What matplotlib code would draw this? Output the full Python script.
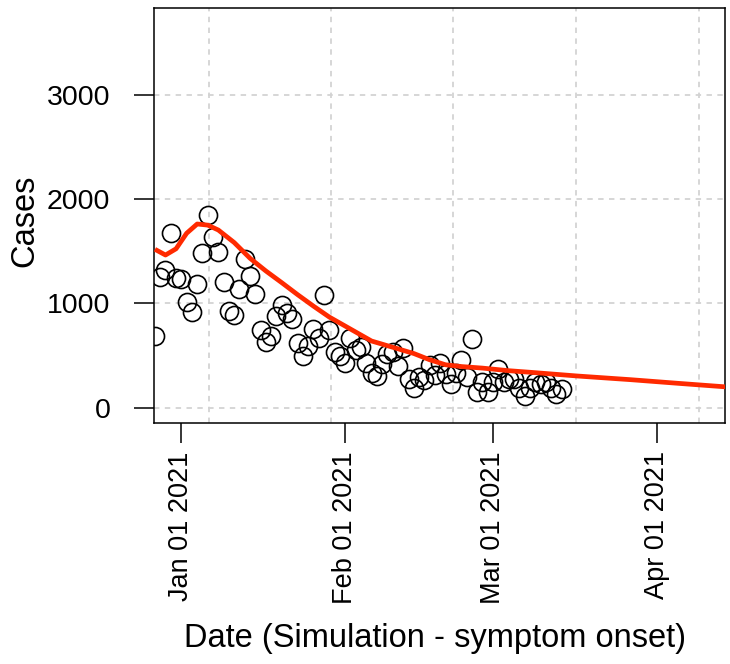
import numpy as np
import matplotlib
matplotlib.use("Agg")
import matplotlib.pyplot as plt
import matplotlib.dates as mdates

plt.rcParams['font.family'] = ['Liberation Sans', 'DejaVu Sans']

# observed daily cases (symptom onset), first day 2020-12-27
start_date = np.datetime64('2020-12-27')
cases = [687, 1250, 1320, 1680, 1245, 1238, 1015, 922, 1188, 1486,
         1845, 1637, 1495, 1205, 932, 887, 1143, 1425, 1265, 1095,
         744, 628, 688, 877, 986, 906, 849, 623, 493, 594,
         756, 667, 1080, 744, 534, 493, 429, 667, 550, 582,
         429, 332, 305, 420, 513, 534, 404, 574, 279, 190,
         291, 267, 412, 311, 433, 319, 230, 332, 453, 291,
         655, 150, 251, 154, 251, 372, 251, 279, 279, 190,
         112, 190, 251, 230, 251, 190, 135, 178]

# fitted curve, read at these offsets (days from 2021-01-01)
fit_day = [-5, -3, -1, 1, 3, 5, 7, 10, 13, 16, 19, 22, 25, 28, 32, 36,
           41, 44, 47, 50, 53, 57, 62, 66, 75, 85, 94, 103]
fit_cases = [1520, 1465, 1525, 1674, 1763, 1752, 1705, 1585, 1434, 1312,
             1200, 1085, 975, 870, 755, 640, 565, 520, 460, 412, 395,
             380, 355, 340, 304, 269, 234, 200]

tick_dates = ['2021-01-01', '2021-02-01', '2021-03-01', '2021-04-01']
tick_labels = ['Jan 01 2021', 'Feb 01 2021', 'Mar 01 2021', 'Apr 01 2021']
y_ticks = [0, 1000, 2000, 3000]

jan1 = np.datetime64('2021-01-01T00:00')
obs_dates = start_date + np.arange(len(cases)).astype('timedelta64[D]')
fit_dates = jan1 + (np.array(fit_day) * 24 * 60).astype('timedelta64[m]')


def day_pos(d):
    # position of a fractional day offset from Jan 1
    return mdates.date2num(jan1) + d


fig = plt.figure(figsize=(7.3, 6.64), dpi=100)
ax = fig.add_axes([0.211, 0.3634, 0.7825, 0.6246])

# grid (R grid(): lightgray dotted)
for g in [5.24, 28.4, 51.5, 74.7, 97.9]:
    ax.axvline(day_pos(g), color='#d3d3d3', lw=1.3, ls=(0, (3, 3)), zorder=0)
for y in y_ticks:
    ax.axhline(y, color='#d3d3d3', lw=1.3, ls=(0, (3, 3)), zorder=0)

ax.plot(obs_dates, cases, 'o', ms=13, mfc='none', mec='black', mew=1.2,
        zorder=2)
ax.plot(fit_dates, fit_cases, color='#ff2a00', lw=3.4, zorder=3,
        solid_capstyle='butt')

ax.set_xlim(day_pos(-5.17), day_pos(102.95))
ax.set_ylim(-144, 3836)

ax.set_yticks(y_ticks)
ax.set_yticklabels([str(v) for v in y_ticks])
ax.set_xticks([mdates.date2num(np.datetime64(d)) for d in tick_dates])
ax.set_xticklabels(tick_labels, rotation=90)

ax.tick_params(axis='both', length=14.5, width=1.1, labelsize=20.5,
               direction='out', color='black')
ax.tick_params(axis='y', pad=17)
ax.tick_params(axis='x', pad=6, labelsize=19.5)

for s in ax.spines.values():
    s.set_linewidth(1.1)

fig.text(25 / 730, 1 - 221 / 664, 'Cases', rotation=90, fontsize=23.5,
         ha='center', va='center')
fig.text(435 / 730, 1 - 638 / 664, 'Date (Simulation - symptom onset)',
         fontsize=23.5, ha='center', va='center')

fig.savefig('out.png', dpi=100)
